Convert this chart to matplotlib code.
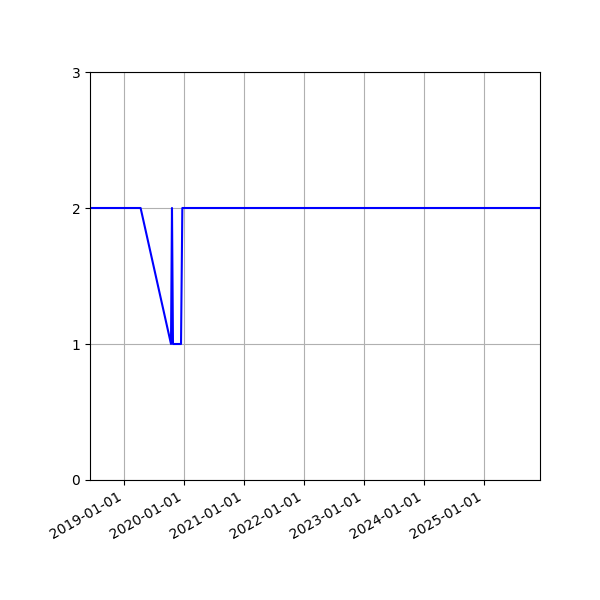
import numpy as np
import pandas as pd
import matplotlib
matplotlib.use("Agg")
import matplotlib.pyplot as plt
import matplotlib.dates as mdates

dates = pd.to_datetime(["2018-06-08", "2019-04-12", "2019-10-14", "2019-10-20",
                        "2019-10-26", "2019-12-14", "2019-12-22", "2025-12-07"])
values = [2, 2, 1, 2, 1, 1, 2, 2]
yticks = [0, 1, 2, 3]

fig, ax = plt.subplots(figsize=(6, 6), dpi=100)
ax.plot(dates, values, color="blue")
ax.set_xlim(dates[0], dates[-1])
ax.set_ylim(0, 3)
ax.set_yticks(yticks)
ax.xaxis.set_major_locator(mdates.YearLocator())
ax.xaxis.set_major_formatter(mdates.DateFormatter("%Y-%m-%d"))
ax.grid(True)
fig.autofmt_xdate()
fig.subplots_adjust(left=0.15, right=0.9, top=0.88, bottom=0.2)
fig.savefig("out.png")
